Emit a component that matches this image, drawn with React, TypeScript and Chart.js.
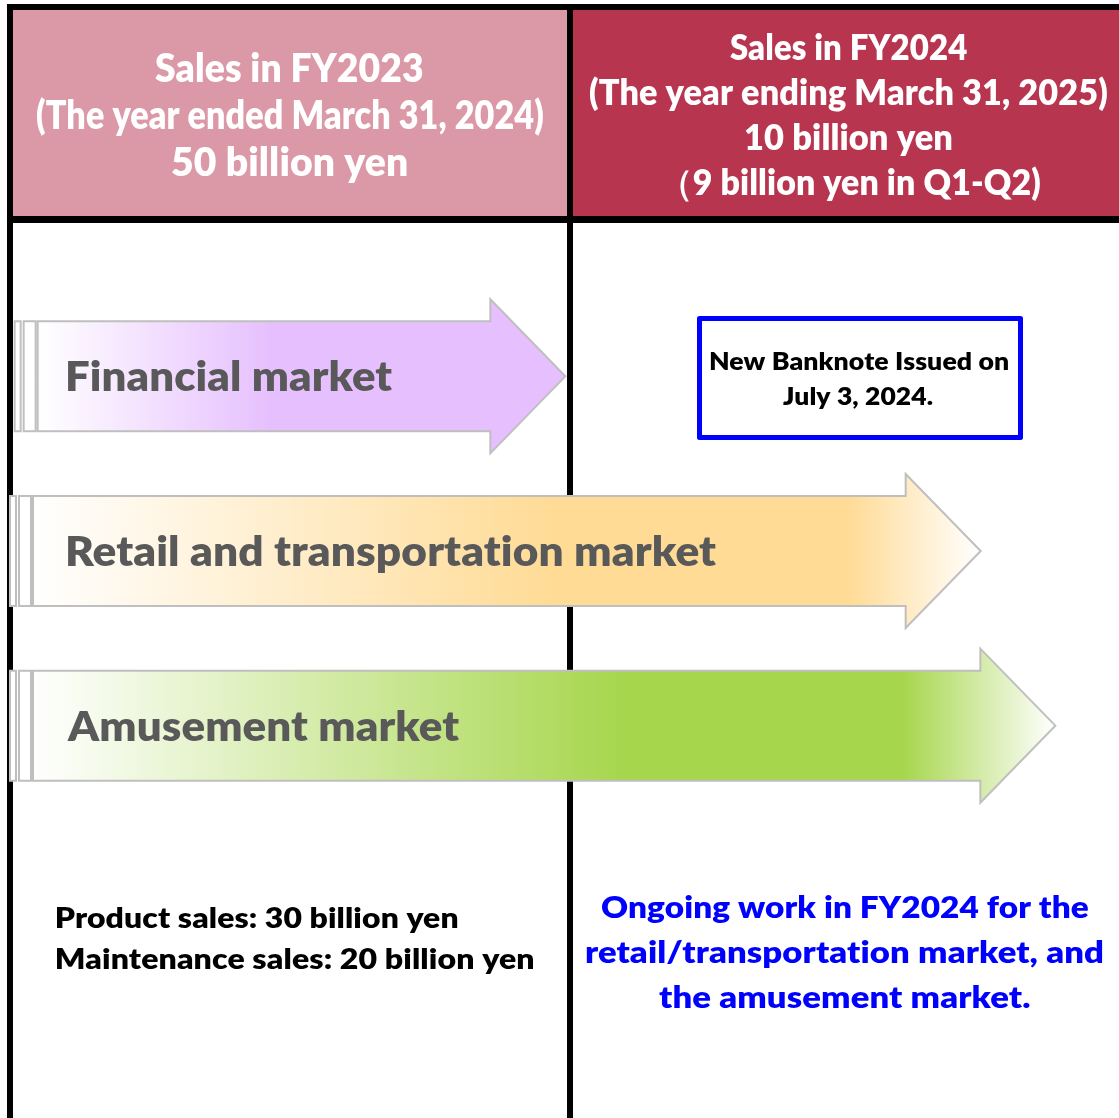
import React, { useEffect, useRef } from 'react';
import { Chart, registerables } from 'chart.js';

Chart.register(...registerables);

// ---- data ----
const markets = ['Financial market', 'Retail and transportation market', 'Amusement market'];
// months from the start of FY2023 (April 2023)
const arrowStart = [0.1, 0, 0];
const arrowEnd = [11.9, 20.8, 22.4];
const fyBoundaries = [0, 12, 24];
const fy2023Header = ['Sales in FY2023', '(The year ended March 31, 2024)', '50 billion yen'];
const fy2024Header = ['Sales in FY2024', '(The year ending March 31, 2025)', '10 billion yen', '（9 billion yen in Q1-Q2)'];
const banknoteNote = ['New Banknote Issued on', 'July 3, 2024.'];
const fy2023Notes = ['Product sales: 30 billion yen', 'Maintenance sales: 20 billion yen'];
const fy2024Notes = ['Ongoing work in FY2024 for the', 'retail/transportation market, and', 'the amusement market.'];

// ---- styles ----
const W = 1119;
const H = 1118;
const FONT = 'Lato, "Open Sans", "Noto Sans", sans-serif';
const WEIGHT = 800;
const arrowGradients: [number, string][][] = [
  [[0, '#FFFFFF'], [0.44, '#E6C0FE'], [1, '#E6C0FE']],
  [[0, '#FFFFFF'], [0.55, '#FFDB95'], [0.86, '#FFDB95'], [1, '#FFFFFF']],
  [[0, '#FFFFFF'], [0.58, '#A6D64C'], [0.85, '#A6D64C'], [1, '#FFFFFF']],
];
const labelLayout = [
  { width: 326 },
  { width: 650 },
  { width: 393 },
];

function fitText(
  ctx: CanvasRenderingContext2D,
  text: string,
  left: number,
  baseline: number,
  size: number,
  width: number,
  color: string
) {
  ctx.save();
  ctx.font = `${WEIGHT} ${size}px ${FONT}`;
  (ctx as any).letterSpacing = '0.1px';
  ctx.fillStyle = color;
  ctx.textAlign = 'left';
  ctx.textBaseline = 'alphabetic';
  const m = ctx.measureText(text);
  const w = m.actualBoundingBoxLeft + m.actualBoundingBoxRight;
  const sx = w > 0 ? width / w : 1;
  ctx.translate(left, baseline);
  ctx.scale(sx, 1);
  ctx.fillText(text, m.actualBoundingBoxLeft, 0);
  ctx.restore();
}

const diagramPlugin = {
  id: 'diagram',
  beforeDatasetsDraw(chart: any) {
    const ctx: CanvasRenderingContext2D = chart.ctx;
    const xs = chart.scales.x;
    const xLeft = xs.getPixelForValue(fyBoundaries[0]);
    const xDiv = xs.getPixelForValue(fyBoundaries[1]);
    ctx.save();
    ctx.fillStyle = '#FFFFFF';
    ctx.fillRect(0, 0, W, H);
    // header cells
    ctx.fillStyle = '#DB99A7';
    ctx.fillRect(xLeft + 3, 10, xDiv - 3 - (xLeft + 3), 206);
    ctx.fillStyle = '#B83550';
    ctx.fillRect(xDiv + 3, 10, W - (xDiv + 3), 206);
    // frame lines
    ctx.fillStyle = '#000000';
    ctx.fillRect(xLeft - 3, 4, W - (xLeft - 3), 6);
    ctx.fillRect(xLeft - 3, 4, 6, H - 4);
    ctx.fillRect(xDiv - 3, 4, 6, H - 4);
    ctx.fillRect(xLeft - 3, 216, W - (xLeft - 3), 7);
    ctx.restore();

    // header texts
    const lh = [
      [155, 268, 82],
      [37, 506, 129],
      [172, 235, 176],
    ];
    fy2023Header.forEach((t, i) => fitText(ctx, t, lh[i][0], lh[i][2], 39, lh[i][1], '#FFFFFF'));
    const rh = [
      [730, 237, 60],
      [590, 517, 105],
      [745, 207, 150],
      [680, 360, 195],
    ];
    fy2024Header.forEach((t, i) => fitText(ctx, t, rh[i][0], rh[i][2], 35, rh[i][1], '#FFFFFF'));
  },
  afterDatasetsDraw(chart: any) {
    const ctx: CanvasRenderingContext2D = chart.ctx;
    const meta = chart.getDatasetMeta(0);
    const xs = chart.scales.x;
    meta.data.forEach((el: any, i: number) => {
      const base = el.base;
      const tip = el.x;
      const cy = el.y;
      const bh = 55;
      const hh = 77;
      const headStart = tip - 75;
      const bodyLeft = base + 23;
      const g = ctx.createLinearGradient(bodyLeft, 0, tip, 0);
      arrowGradients[i].forEach(([s, c]) => g.addColorStop(s, c));
      ctx.save();
      ctx.lineWidth = 2;
      ctx.strokeStyle = '#BFBFBF';
      ctx.fillStyle = g;
      // decorative stripes
      ctx.beginPath();
      ctx.rect(base, cy - bh, 6, bh * 2);
      ctx.fill();
      ctx.stroke();
      ctx.beginPath();
      ctx.rect(base + 9, cy - bh, 12, bh * 2);
      ctx.fill();
      ctx.stroke();
      // arrow
      ctx.beginPath();
      ctx.moveTo(bodyLeft, cy - bh);
      ctx.lineTo(headStart, cy - bh);
      ctx.lineTo(headStart, cy - hh);
      ctx.lineTo(tip, cy);
      ctx.lineTo(headStart, cy + hh);
      ctx.lineTo(headStart, cy + bh);
      ctx.lineTo(bodyLeft, cy + bh);
      ctx.closePath();
      ctx.fill();
      ctx.stroke();
      ctx.restore();
      const labelLeft = xs.getPixelForValue(fyBoundaries[0]) + 57;
      fitText(ctx, chart.data.labels[i], labelLeft, cy + 15, 42, labelLayout[i].width, '#595959');
    });

    // banknote box
    ctx.save();
    ctx.strokeStyle = '#0000FF';
    ctx.lineWidth = 5;
    ctx.lineJoin = 'round';
    ctx.fillStyle = '#FFFFFF';
    ctx.beginPath();
    ctx.rect(699.5, 318.5, 321, 119);
    ctx.fill();
    ctx.stroke();
    ctx.restore();
    const bn = [
      [710, 299, 370],
      [783, 150, 405],
    ];
    banknoteNote.forEach((t, i) => fitText(ctx, t, bn[i][0], bn[i][2], 25, bn[i][1], '#000000'));

    const bl = [
      [57, 401, 928],
      [57, 477, 969],
    ];
    fy2023Notes.forEach((t, i) => fitText(ctx, t, bl[i][0], bl[i][2], 29, bl[i][1], '#000000'));
    const br = [
      [601, 487, 918],
      [586, 517, 963],
      [659, 371, 1008],
    ];
    fy2024Notes.forEach((t, i) => fitText(ctx, t, br[i][0], br[i][2], 31, br[i][1], '#0000FF'));
  },
};

export default function App() {
  const ref = useRef<HTMLCanvasElement>(null);
  useEffect(() => {
    const canvas = ref.current;
    if (!canvas) return;
    const chart = new Chart(canvas, {
      type: 'bar',
      data: {
        labels: markets,
        datasets: [
          {
            data: markets.map((_, i) => [arrowStart[i], arrowEnd[i]]) as any,
            backgroundColor: 'rgba(0,0,0,0)',
            borderWidth: 0,
            barThickness: 110,
          },
        ],
      },
      options: {
        indexAxis: 'y',
        responsive: false,
        animation: false,
        devicePixelRatio: 1,
        events: [],
        layout: { padding: { top: 289, bottom: 305, left: 0, right: 0 } },
        scales: {
          x: { type: 'linear', min: -0.214, max: 23.764, display: false },
          y: { type: 'category', display: false, offset: true },
        },
        plugins: {
          legend: { display: false },
          tooltip: { enabled: false },
          title: { display: false },
        },
      },
      plugins: [diagramPlugin],
    });
    return () => chart.destroy();
  }, []);
  return (
    <div style={{ position: 'absolute', left: 0, top: 0, width: W, height: H, background: '#FFFFFF' }}>
      <canvas ref={ref} width={W} height={H} style={{ display: 'block' }} />
    </div>
  );
}
